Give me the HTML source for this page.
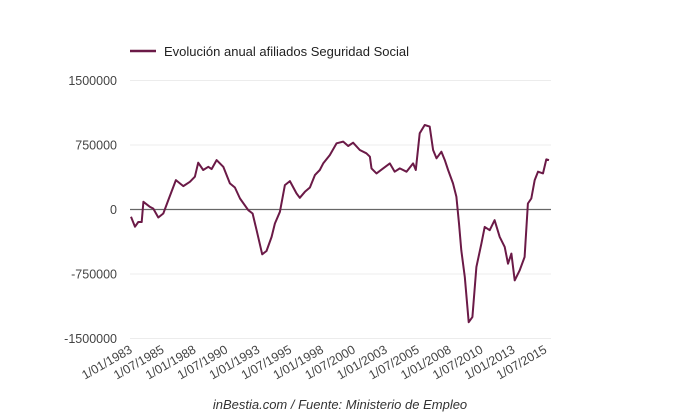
<!DOCTYPE html>
<html><head><meta charset="utf-8"><style>
html,body{margin:0;padding:0;background:#fff;}
svg{display:block;font-family:"Liberation Sans",Arial,sans-serif;}
</style></head><body>
<svg id="chart" width="680" height="420" viewBox="0 0 680 420">
<g>
<line x1="130" y1="51" x2="156" y2="51" stroke="#6b1a47" stroke-width="2.5"/>
<text x="164" y="56" font-size="13" fill="#222">Evolución anual afiliados Seguridad Social</text>
</g>
<g id="grid"></g><g id="ylab"></g><g id="xlab"></g><g id="series"></g>
<text x="340" y="409" font-size="13" font-style="italic" fill="#333" text-anchor="middle">inBestia.com / Fuente: Ministerio de Empleo</text>
</svg>
<script>
const yTicks=[1500000,750000,0,-750000,-1500000];
const xTickYears=[1983,1985.5,1988,1990.5,1993,1995.5,1998,2000.5,2003,2005.5,2008,2010.5,2013,2015.5];
const xTickLabels=["1/01/1983","1/07/1985","1/01/1988","1/07/1990","1/01/1993","1/07/1995","1/01/1998","1/07/2000","1/01/2003","1/07/2005","1/01/2008","1/07/2010","1/01/2013","1/07/2015"];
const dates=[1983.0,1983.31,1983.57,1983.84,1983.97,1984.49,1984.75,1985.14,1985.53,1985.92,1986.52,1987.10,1987.62,1988.01,1988.27,1988.66,1989.06,1989.32,1989.71,1990.23,1990.75,1991.14,1991.54,1992.19,1992.53,1992.84,1993.28,1993.62,1994.02,1994.28,1994.67,1995.06,1995.45,1995.97,1996.23,1996.63,1997.02,1997.41,1997.80,1998.06,1998.58,1999.11,1999.63,2000.02,2000.41,2000.93,2001.45,2001.72,2001.85,2002.24,2002.76,2003.28,2003.67,2004.07,2004.59,2005.11,2005.32,2005.63,2006.02,2006.41,2006.68,2006.94,2007.33,2007.59,2007.85,2008.24,2008.50,2008.71,2008.89,2009.16,2009.47,2009.76,2010.07,2010.46,2010.72,2011.11,2011.50,2011.90,2012.29,2012.55,2012.81,2013.07,2013.46,2013.85,2014.11,2014.37,2014.64,2014.90,2015.29,2015.55,2015.76];
const values=[-85000,-200000,-145000,-145000,90000,30000,10000,-93000,-47000,109000,342000,272000,322000,381000,544000,459000,497000,470000,575000,497000,303000,256000,128000,-8000,-47000,-241000,-521000,-482000,-319000,-163000,-27000,284000,330000,187000,136000,206000,256000,400000,459000,536000,633000,770000,789000,738000,777000,692000,653000,614000,478000,420000,478000,536000,439000,478000,439000,536000,459000,886000,983000,964000,692000,595000,672000,575000,459000,303000,148000,-163000,-474000,-785000,-1310000,-1251000,-668000,-396000,-202000,-241000,-124000,-319000,-435000,-630000,-513000,-824000,-707000,-552000,70000,128000,342000,439000,420000,583000,575000];
const NS="http://www.w3.org/2000/svg";
const X0=131,X1=549,D0=1983,D1=2015.76;
function xs(d){return X0+(d-D0)/(D1-D0)*(X1-X0);}
function ys(v){return 209.5-v/750000*64.5;}
const grid=document.getElementById('grid'),ylab=document.getElementById('ylab'),xlab=document.getElementById('xlab'),series=document.getElementById('series');
yTicks.forEach(v=>{
 const l=document.createElementNS(NS,'line');
 l.setAttribute('x1',130);l.setAttribute('x2',551);l.setAttribute('y1',ys(v));l.setAttribute('y2',ys(v));
 l.setAttribute('stroke',v===0?'#666':'#ececec');l.setAttribute('stroke-width',v===0?1.2:1);
 
 
 grid.appendChild(l);
 const t=document.createElementNS(NS,'text');
 t.setAttribute('x',117);t.setAttribute('y',ys(v)+4.5);t.setAttribute('text-anchor','end');t.setAttribute('font-size','12.5');t.setAttribute('fill','#444');
 t.textContent=String(v);
 
 
 ylab.appendChild(t);
});
xTickYears.forEach((d,i)=>{
 const t=document.createElementNS(NS,'text');
 const x=xs(d)+2,y=352;
 t.setAttribute('transform','translate('+x+','+y+') rotate(-30)');
 t.setAttribute('text-anchor','end');t.setAttribute('font-size','12.5');t.setAttribute('fill','#444');
 t.textContent=xTickLabels[i];
 
 
 xlab.appendChild(t);
});
const p=document.createElementNS(NS,'path');
p.setAttribute('d',dates.map((d,i)=>(i?'L':'M')+xs(d).toFixed(1)+','+ys(values[i]).toFixed(1)).join(''));
p.setAttribute('fill','none');p.setAttribute('stroke','#6b1a47');p.setAttribute('stroke-width','2');p.setAttribute('stroke-linejoin','round');


series.appendChild(p);
</script>
</body></html>
